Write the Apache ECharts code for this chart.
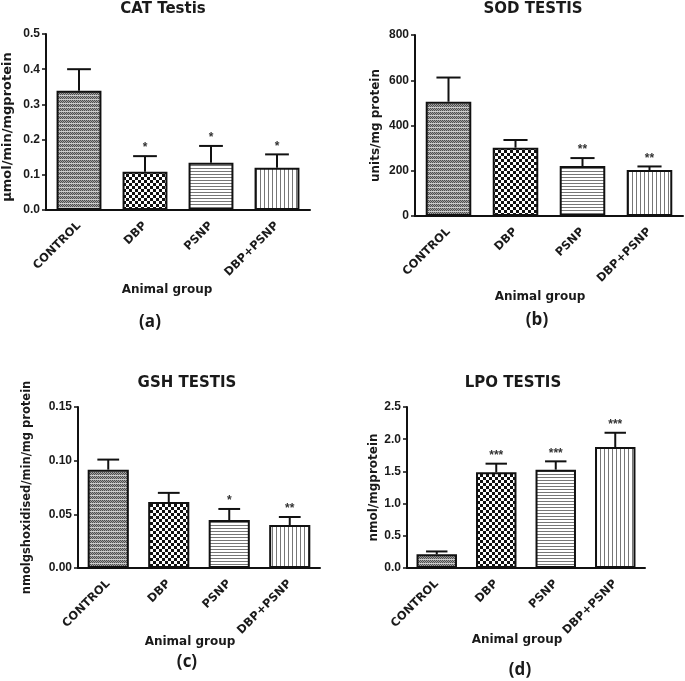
<!DOCTYPE html>
<html>
<head>
<meta charset="utf-8">
<script src="https://cdn.jsdelivr.net/npm/echarts@6/dist/echarts.min.js"></script>
<style>
html,body{margin:0;padding:0;background:#fff;}
#chart{width:685px;height:681px;}
</style>
</head>
<body>
<div id="chart"></div>
<script>
// ---- data ----
const categories = ['CONTROL', 'DBP', 'PSNP', 'DBP+PSNP'];

const catTitle = 'CAT Testis';
const catYName = 'μmol/min/mgprotein';
const catMean  = [0.339, 0.109, 0.134, 0.120];
const catUpper = [0.400, 0.153, 0.182, 0.158];
const catStars = ['', '*', '*', '*'];
const catTicks = [0.0, 0.1, 0.2, 0.3, 0.4, 0.5];

const sodTitle = 'SOD TESTIS';
const sodYName = 'units/mg protein';
const sodMean  = [505, 302, 221, 203];
const sodUpper = [612, 336, 256, 219];
const sodStars = ['', '', '**', '**'];
const sodTicks = [0, 200, 400, 600, 800];

const gshTitle = 'GSH TESTIS';
const gshYName = 'nmolgshoxidised/min/mg protein';
const gshMean  = [0.0916, 0.0615, 0.0447, 0.0400];
const gshUpper = [0.1010, 0.0700, 0.0550, 0.0475];
const gshStars = ['', '', '*', '**'];
const gshTicks = [0.00, 0.05, 0.10, 0.15];

const lpoTitle = 'LPO TESTIS';
const lpoYName = 'nmol/mgprotein';
const lpoMean  = [0.212, 1.486, 1.527, 1.879];
const lpoUpper = [0.257, 1.620, 1.656, 2.100];
const lpoStars = ['', '***', '***', '***'];
const lpoTicks = [0.0, 0.5, 1.0, 1.5, 2.0, 2.5];

const xName = 'Animal group';
const panelTags = ['(a)', '(b)', '(c)', '(d)'];

// ---- patterns ----
function makeCanvas(w, h, draw) {
  const c = document.createElement('canvas');
  c.width = w; c.height = h;
  const g = c.getContext('2d');
  g.fillStyle = '#fff'; g.fillRect(0, 0, w, h);
  draw(g);
  return c;
}
const patControl = makeCanvas(4, 4, g => {
  g.fillStyle = '#a2a2a2'; g.fillRect(0, 0, 4, 4);
  g.fillStyle = '#4e4e4e';
  for (let y = 0; y < 4; y++) for (let x = 0; x < 4; x++) if ((x + y) % 2 === 0 && y !== 3) g.fillRect(x, y, 1, 1);
  g.fillStyle = '#cccccc'; g.fillRect(0, 3, 4, 1);
});
const patDBP = makeCanvas(6, 6, g => {
  g.fillStyle = '#111';
  g.fillRect(0, 0, 3, 3); g.fillRect(3, 3, 3, 3);
});
const patPSNP = makeCanvas(4, 3, g => {
  g.fillStyle = '#777'; g.fillRect(0, 0, 4, 1);
});
const patBoth = makeCanvas(4, 4, g => {
  g.fillStyle = '#777'; g.fillRect(0, 0, 1, 4);
});
const patterns = [patControl, patDBP, patPSNP, patBoth];

// ---- layout ----
const FONT = '"Liberation Sans", Arial, sans-serif';
const WIDE = '"DejaVu Sans", sans-serif';
const TXT = '#1a1a1a';
const panels = [
  { title: catTitle, yName: catYName, mean: catMean, upper: catUpper, stars: catStars, ticks: catTicks, dec: 1,
    grid: { left: 45, top: 34, width: 265, height: 176 }, nameGap: 32, nameSize: 13, namePad: [0, 10, 0, 0],
    titlePos: [163, 9], xNamePos: [167, 290], tagPos: [150, 322] },
  { title: sodTitle, yName: sodYName, mean: sodMean, upper: sodUpper, stars: sodStars, ticks: sodTicks, dec: 0,
    grid: { left: 415, top: 35, width: 268, height: 181 }, nameGap: 33, nameSize: 12, namePad: 0,
    titlePos: [533, 9], xNamePos: [540, 297], tagPos: [537, 320] },
  { title: gshTitle, yName: gshYName, mean: gshMean, upper: gshUpper, stars: gshStars, ticks: gshTicks, dec: 2,
    grid: { left: 78, top: 407, width: 242, height: 161 }, nameGap: 45, nameSize: 11.5, namePad: 0,
    titlePos: [187, 383], xNamePos: [190, 642], tagPos: [187, 662] },
  { title: lpoTitle, yName: lpoYName, mean: lpoMean, upper: lpoUpper, stars: lpoStars, ticks: lpoTicks, dec: 1,
    grid: { left: 407, top: 407, width: 238, height: 161 }, nameGap: 27, nameSize: 12, namePad: 0,
    titlePos: [513, 383], xNamePos: [517, 640], tagPos: [520, 670] }
];

const grids = [], xAxes = [], yAxes = [], series = [], graphics = [];
panels.forEach((p, i) => {
  grids.push(Object.assign({ containLabel: false }, p.grid));
  xAxes.push({
    type: 'category', gridIndex: i, data: categories,
    axisLine: { lineStyle: { color: '#111', width: 2 } },
    axisTick: { alignWithLabel: true, length: 5, lineStyle: { color: '#111', width: 1.5 } },
    axisLabel: { rotate: 45, interval: 0, margin: 14, color: TXT, fontFamily: WIDE, fontWeight: 'bold', fontSize: 11.5 },
    splitLine: { show: false }
  });
  const t = p.ticks;
  yAxes.push({
    type: 'value', gridIndex: i, min: t[0], max: t[t.length - 1], interval: t[1] - t[0],
    name: p.yName, nameLocation: 'middle', nameRotate: 90, nameGap: p.nameGap,
    nameTextStyle: { color: TXT, fontFamily: WIDE, fontWeight: 'bold', fontSize: p.nameSize, padding: p.namePad },
    axisLine: { show: true, lineStyle: { color: '#111', width: 2 } },
    axisTick: { show: true, length: 4, lineStyle: { color: '#111', width: 1.5 } },
    axisLabel: { color: TXT, fontFamily: FONT, fontWeight: 'bold', fontSize: 12, margin: 6,
      formatter: v => Number(v).toFixed(p.dec) },
    splitLine: { show: false }
  });
  series.push({
    type: 'bar', xAxisIndex: i, yAxisIndex: i, barCategoryGap: '32%',
    data: p.mean.map((v, k) => ({
      value: v,
      itemStyle: { color: { image: patterns[k], repeat: 'repeat' }, borderColor: '#111', borderWidth: 2 }
    })),
    emphasis: { disabled: true }, silent: true, z: 2
  });
  series.push({
    type: 'custom', xAxisIndex: i, yAxisIndex: i, z: 3, silent: true,
    data: p.mean.map((v, k) => [k, v, p.upper[k]]),
    renderItem: (params, api) => {
      const k = api.value(0);
      const a = api.coord([k, api.value(1)]);
      const b = api.coord([k, api.value(2)]);
      const half = api.size([1, 0])[0] * 0.18;
      const star = p.stars[k];
      const ch = [
        { type: 'line', shape: { x1: a[0], y1: a[1], x2: b[0], y2: b[1] }, style: { stroke: '#111', lineWidth: 2 } },
        { type: 'line', shape: { x1: b[0] - half, y1: b[1], x2: b[0] + half, y2: b[1] }, style: { stroke: '#111', lineWidth: 2 } }
      ];
      if (star) {
        ch.push({ type: 'text', x: b[0], y: b[1] - 2,
          style: { text: star, fill: '#333', font: 'bold 12px ' + FONT, align: 'center', verticalAlign: 'bottom', textAlign: 'center', textVerticalAlign: 'bottom' } });
      }
      return { type: 'group', children: ch };
    }
  });
  const mk = (pos, text, font) => ({
    type: 'text', x: pos[0], y: pos[1],
    style: { text, fill: TXT, font, align: 'center', verticalAlign: 'middle', textAlign: 'center', textVerticalAlign: 'middle' }
  });
  graphics.push(mk(p.titlePos, p.title, 'bold 15px ' + WIDE));
  graphics.push(mk(p.xNamePos, xName, 'bold 12px ' + WIDE));
  graphics.push(mk(p.tagPos, panelTags[i], 'bold 17px "Open Sans", sans-serif'));
});

const chart = echarts.init(document.getElementById('chart'), null, { renderer: 'canvas' });
chart.setOption({
  animation: false,
  backgroundColor: '#fff',
  grid: grids, xAxis: xAxes, yAxis: yAxes, series: series,
  graphic: { elements: graphics }
});
</script>
</body>
</html>
